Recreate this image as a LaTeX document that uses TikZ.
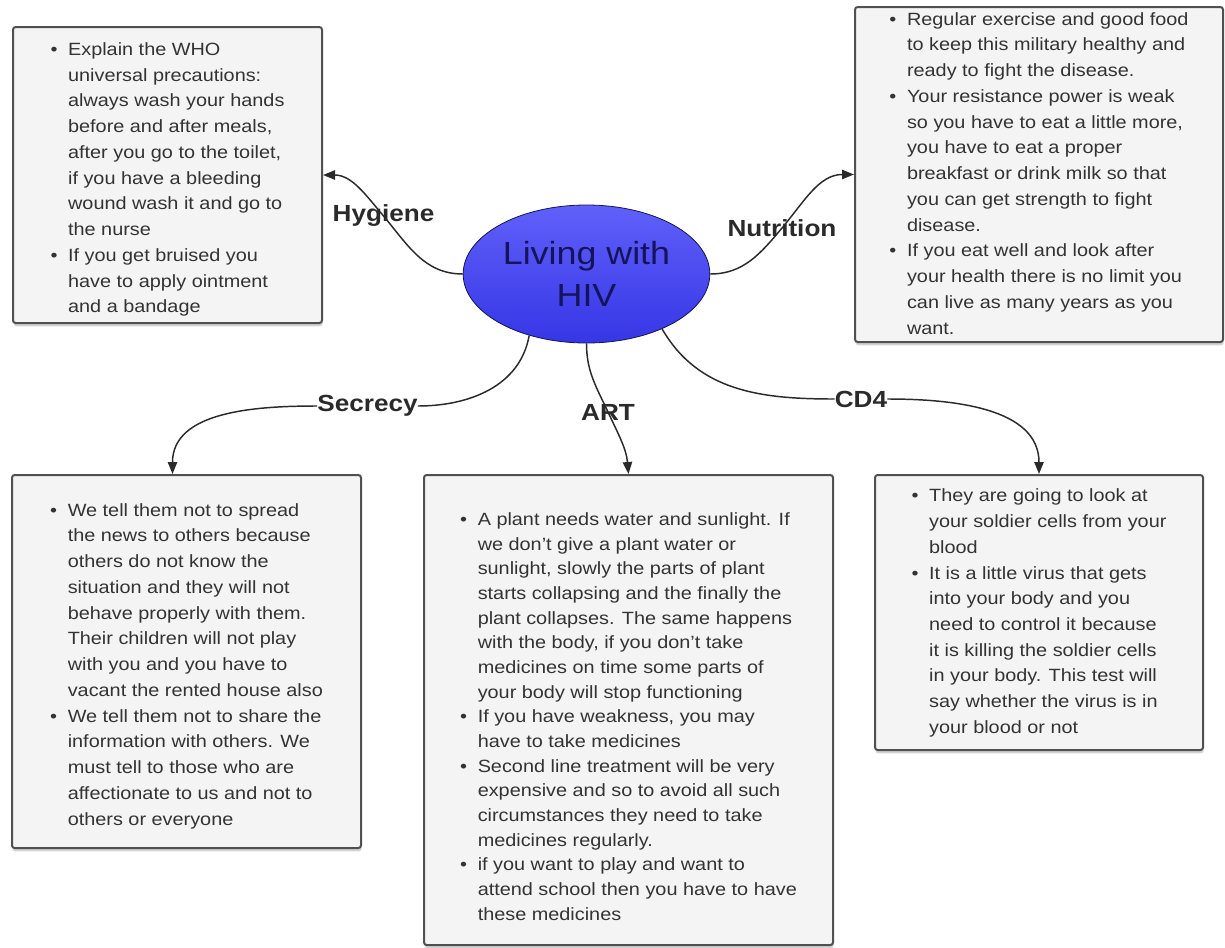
\documentclass[tikz,border=0pt]{standalone}
\usepackage{fontspec}
\setmainfont{Liberation Sans}[FakeStretch=1.12]
\usetikzlibrary{shapes.geometric,arrows.meta,shadows,backgrounds}

\definecolor{boxfill}{HTML}{F4F4F4}
\definecolor{boxline}{HTML}{505050}
\definecolor{bodytext}{HTML}{333333}
\definecolor{linkcol}{HTML}{2A2A2A}
\definecolor{hivlight}{HTML}{6060FA}
\definecolor{hivdark}{HTML}{3636E6}
\definecolor{hivnavy}{HTML}{14145A}

\newenvironment{hivlist}{\begin{tabular}{@{}l@{\hspace{8pt}}l@{}}}{\end{tabular}}
\newcommand{\shiftdown}[2]{\raisebox{-#1}[\height][\depth]{#2}}

\begin{document}
\begin{tikzpicture}[x=0.75pt,y=-0.75pt,
    infobox/.style={draw=boxline, line width=1.5pt, fill=boxfill, rounded corners=2pt,
        drop shadow={shadow xshift=0.5pt, shadow yshift=-2.5pt, opacity=0.35},
        inner sep=0pt, text=bodytext, font=\fontsize{13.3}{19.3}\selectfont},
    topic/.style={font=\bfseries\fontsize{17.5}{20}\selectfont, text=linkcol, inner sep=0pt},
    link/.style={draw=linkcol, line width=1.1pt, -{Triangle[length=9pt,width=7pt]}}]
\useasboundingbox (0,0) rectangle (1225,947);

% centre
\node[ellipse, draw=hivnavy, line width=0.6pt, top color=hivlight, bottom color=hivdark,
      minimum width=185pt, minimum height=103.5pt, inner sep=0pt, align=center,
      text=hivnavy, font=\fontsize{24}{31.5}\selectfont] (liv) at (586.5,274) {Living with\\HIV};

% boxes
\node[infobox, minimum width=231.75pt, minimum height=222pt] (hygbox) at (167.5,175) {\shiftdown{3pt}{%
\begin{hivlist}
\textbullet & Explain the WHO\\
 & universal precautions:\\
 & always wash your hands\\
 & before and after meals,\\
 & after you go to the toilet,\\
 & if you have a bleeding\\
 & wound wash it and go to\\
 & the nurse\\
\textbullet & If you get bruised you\\
 & have to apply ointment\\
 & and a bandage
\end{hivlist}}};

\node[infobox, minimum width=276pt, minimum height=251.25pt] (nutbox) at (1039,174.5) {%
\begin{hivlist}
\textbullet & Regular exercise and good food\\
 & to keep this military healthy and\\
 & ready to fight the disease.\\
\textbullet & Your resistance power is weak\\
 & so you have to eat a little more,\\
 & you have to eat a proper\\
 & breakfast or drink milk so that\\
 & you can get strength to fight\\
 & disease.\\
\textbullet & If you eat well and look after\\
 & your health there is no limit you\\
 & can live as many years as you\\
 & want.
\end{hivlist}};

\node[infobox, minimum width=261.75pt, minimum height=279.75pt] (secbox) at (186.5,661.5) {\shiftdown{3pt}{%
\begin{hivlist}
\textbullet & We tell them not to spread\\
 & the news to others because\\
 & others do not know the\\
 & situation and they will not\\
 & behave properly with them.\\
 & Their children will not play\\
 & with you and you have to\\
 & vacant the rented house also\\
\textbullet & We tell them not to share the\\
 & information with others. We\\
 & must tell to those who are\\
 & affectionate to us and not to\\
 & others or everyone
\end{hivlist}}};

\node[infobox, minimum width=306.75pt, minimum height=352.5pt,
      font=\fontsize{13.3}{18.5}\selectfont] (artbox) at (628.5,710) {\shiftdown{6pt}{%
\begin{hivlist}
\textbullet & A plant needs water and sunlight. If\\
 & we don't give a plant water or\\
 & sunlight, slowly the parts of plant\\
 & starts collapsing and the finally the\\
 & plant collapses. The same happens\\
 & with the body, if you don't take\\
 & medicines on time some parts of\\
 & your body will stop functioning\\
\textbullet & If you have weakness, you may\\
 & have to take medicines\\
\textbullet & Second line treatment will be very\\
 & expensive and so to avoid all such\\
 & circumstances they need to take\\
 & medicines regularly.\\
\textbullet & if you want to play and want to\\
 & attend school then you have to have\\
 & these medicines
\end{hivlist}}};

\node[infobox, minimum width=246pt, minimum height=206.25pt] (cdbox) at (1039,612.5) {%
\begin{hivlist}
\textbullet & They are going to look at\\
 & your soldier cells from your\\
 & blood\\
\textbullet & It is a little virus that gets\\
 & into your body and you\\
 & need to control it because\\
 & it is killing the soldier cells\\
 & in your body. This test will\\
 & say whether the virus is in\\
 & your blood or not
\end{hivlist}};

% labels on the links
\node[topic] (hyg) at (383.5,216) {Hygiene};
\node[topic] (nut) at (782,228) {Nutrition};
\node[topic] (sec) at (367.5,406) {Secrecy};
\node[topic] (art) at (608,412) {ART};
\node[topic] (cd) at (861,399) {CD4};

\begin{pgfonlayer}{background}
\draw[link] (liv.west) to[out=180,in=-50] (hyg.center) to[out=130,in=0] (hygbox.east);
\draw[link] (liv.east) to[out=0,in=-130] (nut.center) to[out=50,in=180] (nutbox.west);
\draw[link] (liv.227) to[out=-100,in=0] (sec.east) (sec.west) to[out=180,in=90] ([xshift=-10.5pt]secbox.north);
\draw[link] (liv.south) to[out=-90,in=115] (art.center) to[out=-65,in=95] (artbox.north);
\draw[link] (liv.324) to[out=-60,in=180] (cd.west) (cd.east) to[out=0,in=90] (cdbox.north);
\end{pgfonlayer}
\end{tikzpicture}
\end{document}
